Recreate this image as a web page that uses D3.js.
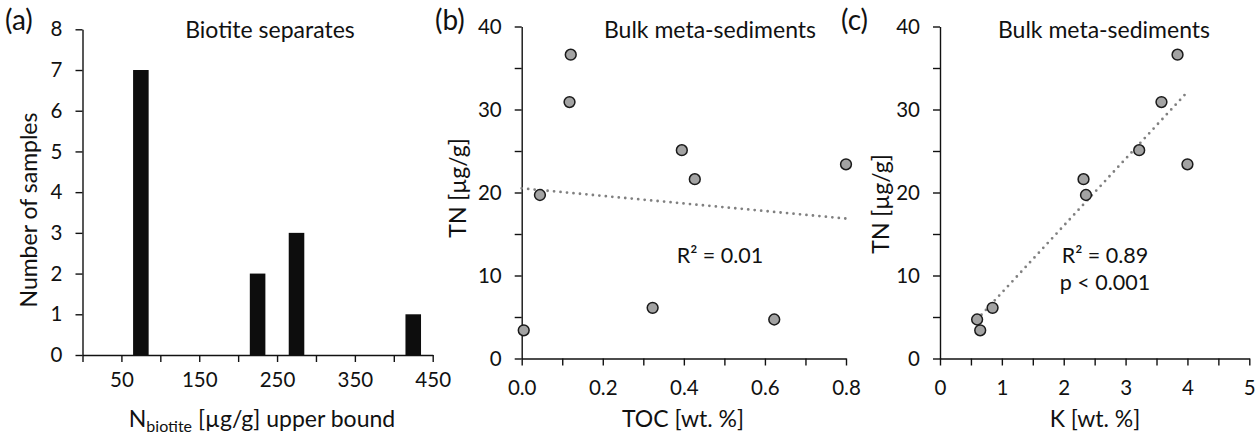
<!DOCTYPE html>
<html>
<head>
<meta charset="utf-8">
<script src="https://cdn.jsdelivr.net/npm/d3@7"></script>
<style>
  body { margin: 0; background: #fff; }
  svg { display: block; font-family: Lato, "Open Sans", sans-serif; }
</style>
</head>
<body>
<svg width="1255" height="435"></svg>
<script>
// (a) histogram: bin midpoints of N_biotite upper bound and sample counts
var binMid = [75, 125, 175, 225, 275, 325, 375, 425];
var binCount = [7, 0, 0, 2, 3, 0, 0, 1];
var histXLabels = [50, 150, 250, 350, 450];

// bulk meta-sediments
var toc = [0.005, 0.045, 0.121, 0.118, 0.323, 0.395, 0.427, 0.623, 0.800];
var potassium = [0.65, 2.36, 3.84, 3.58, 0.85, 3.22, 2.32, 0.60, 4.00];
var tn = [3.4, 19.7, 36.6, 30.9, 6.1, 25.1, 21.6, 4.7, 23.4];

var r2Labels = ["R\u00b2 = 0.01", "R\u00b2 = 0.89"];
var pLabel = "p < 0.001";

let svg = d3.select("svg");
const fs = 20.5;

function styleAxis(g) {
  g.selectAll("path, line").attr("stroke", "#111").attr("stroke-width", 1.4);
  g.selectAll("text").attr("font-size", fs).attr("fill", "#111")
    .attr("font-family", "Lato, sans-serif");
}

function fit(xs, ys) {
  var mx = d3.mean(xs), my = d3.mean(ys);
  var sxy = d3.sum(xs, (d, i) => (d - mx) * (ys[i] - my));
  var sxx = d3.sum(xs, d => (d - mx) * (d - mx));
  var b = sxy / sxx;
  return { slope: b, icpt: my - b * mx };
}

// ---------- panel (a)
var xa = d3.scaleLinear().domain([0, 450]).range([82.5, 432.7]);
var ya = d3.scaleLinear().domain([0, 8]).range([355, 29.3]);

svg.append("g").selectAll("rect")
  .data(binMid.map((d, i) => ({ x: d, n: binCount[i] })).filter(d => d.n > 0))
  .enter().append("rect")
    .attr("x", d => xa(d.x - 10))
    .attr("width", d => xa(20) - xa(0))
    .attr("y", d => ya(d.n))
    .attr("height", d => ya(0) - ya(d.n))
    .attr("fill", "#0d0d0d");

svg.append("g")
  .attr("transform", "translate(0," + ya(0) + ")")
  .call(d3.axisBottom(xa).tickValues(d3.range(0, 451, 50))
    .tickSize(7).tickSizeOuter(0)
    .tickFormat(d => histXLabels.indexOf(d) >= 0 ? d : ""))
  .call(styleAxis)
  .call(g => g.selectAll("text").attr("dy", null).attr("y", 32));

svg.append("g")
  .attr("transform", "translate(" + xa(0) + ",0)")
  .call(d3.axisLeft(ya).ticks(8).tickSize(7).tickSizeOuter(0).tickPadding(13))
  .call(styleAxis);

// ---------- panels (b) and (c)
var yb = d3.scaleLinear().domain([0, 40]).range([358.5, 26.5]);
var xb = d3.scaleLinear().domain([0, 0.8]).range([521.7, 846]);
var xc = d3.scaleLinear().domain([0, 5]).range([940, 1249.3]);

function scatterPanel(x, xs, xTicks, xLabelTicks, fmt, lineFrom, lineTo) {
  svg.append("g")
    .attr("transform", "translate(0," + yb(0) + ")")
    .call(d3.axisBottom(x).tickValues(xTicks).tickSize(7).tickSizeOuter(0)
      .tickFormat(d => xLabelTicks.some(v => Math.abs(v - d) < 1e-9) ? fmt(d) : ""))
    .call(styleAxis)
    .call(g => g.selectAll("text").attr("dy", null).attr("y", 36));

  svg.append("g")
    .attr("transform", "translate(" + x.range()[0] + ",0)")
    .call(d3.axisLeft(yb).tickValues(d3.range(0, 41, 5)).tickSize(7).tickSizeOuter(0)
      .tickPadding(13).tickFormat(d => d % 10 === 0 ? d : ""))
    .call(styleAxis);

  var f = fit(xs, tn);
  svg.append("line")
    .attr("x1", x(lineFrom)).attr("y1", yb(f.icpt + f.slope * lineFrom))
    .attr("x2", x(lineTo)).attr("y2", yb(f.icpt + f.slope * lineTo))
    .attr("stroke", "#808080")
    .attr("stroke-width", 2.8)
    .attr("stroke-linecap", "round")
    .attr("stroke-dasharray", "0 6.5");

  svg.append("g").selectAll("circle")
    .data(xs.map((d, i) => [d, tn[i]]))
    .enter().append("circle")
      .attr("cx", d => x(d[0]))
      .attr("cy", d => yb(d[1]))
      .attr("r", 5.4)
      .attr("fill", "#a3a3a3")
      .attr("stroke", "#1a1a1a")
      .attr("stroke-width", 1.5);
}

scatterPanel(xb, toc, d3.range(0, 0.81, 0.1), [0, 0.2, 0.4, 0.6, 0.8], d3.format(".1f"), 0, 0.8);
scatterPanel(xc, potassium, d3.range(0, 5.01, 0.5), [0, 1, 2, 3, 4, 5], d3.format("d"),
  d3.min(potassium), d3.max(potassium));

// ---------- texts
function txt(x, y, s, size, anchor) {
  return svg.append("text").attr("x", x).attr("y", y)
    .attr("font-size", size).attr("fill", "#111")
    .attr("text-anchor", anchor || "middle").text(s);
}

txt(5, 30, "(a)", 28, "start");
txt(435, 30, "(b)", 28, "start");
txt(841, 30, "(c)", 28, "start");

txt(270, 38, "Biotite separates", 23);
txt(710, 38, "Bulk meta-sediments", 23);
txt(1104, 38, "Bulk meta-sediments", 23);

txt(720, 263, r2Labels[0], 21.5);
txt(1105, 263, r2Labels[1], 21.5);
txt(1105, 290, pLabel, 21.5);

// y labels
svg.append("text").attr("transform", "translate(37,210) rotate(-90)")
  .attr("text-anchor", "middle").attr("font-size", 23).attr("fill", "#111")
  .text("Number of samples");
svg.append("text").attr("transform", "translate(466,188) rotate(-90)")
  .attr("text-anchor", "middle").attr("font-size", 23).attr("fill", "#111")
  .text("TN [\u00b5g/g]");
svg.append("text").attr("transform", "translate(889,204) rotate(-90)")
  .attr("text-anchor", "middle").attr("font-size", 23).attr("fill", "#111")
  .text("TN [\u00b5g/g]");

// x labels
var xl = svg.append("text").attr("x", 262).attr("y", 427)
  .attr("text-anchor", "middle").attr("font-size", 23).attr("fill", "#111");
xl.append("tspan").text("N");
xl.append("tspan").attr("font-size", 16).attr("dy", 5).text("biotite");
xl.append("tspan").attr("dy", -5).text(" [\u00b5g/g] upper bound");

txt(683, 427, "TOC [wt. %]", 23);
txt(1095, 427, "K [wt. %]", 23);
</script>
</body>
</html>
